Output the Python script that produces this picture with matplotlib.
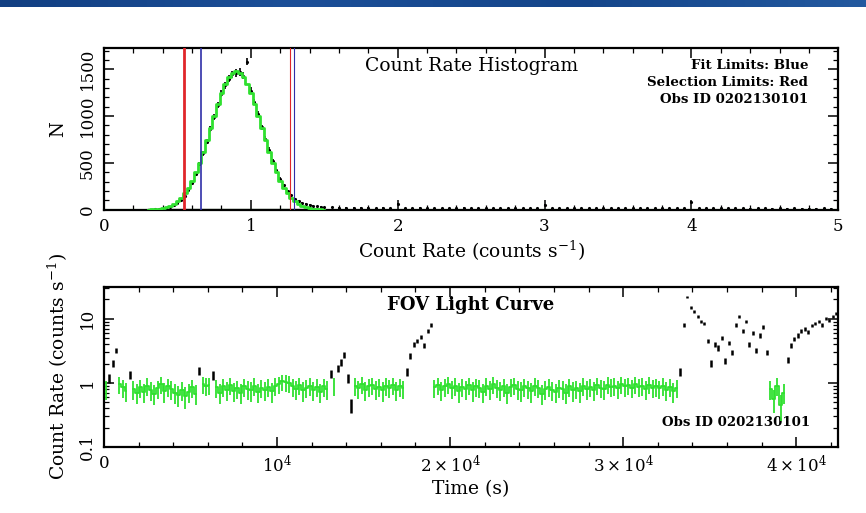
import numpy as np
import matplotlib
matplotlib.use('Agg')
import matplotlib.pyplot as plt
from matplotlib.ticker import MultipleLocator, FixedLocator, FixedFormatter, LogLocator, NullFormatter
from matplotlib.colors import LinearSegmentedColormap

plt.rcParams['font.family'] = 'DejaVu Serif'
plt.rcParams['mathtext.fontset'] = 'dejavuserif'

# ---- count rate histogram (counts s^-1 bins) ----
hist_core_x = np.linspace(0.30, 1.50, 49)
hist_fit = [3, 5, 8, 12.5, 19.5, 30, 45, 65, 92, 129, 176, 236, 310, 399, 502, 618,
            742, 875, 1006, 1134, 1250, 1345, 1418, 1464, 1480, 1464, 1418, 1345, 1250,
            1134, 1006, 875, 742, 618, 502, 399, 310, 236, 176, 129, 92, 65, 45, 30,
            19.5, 12.5, 8, 5, 3]
hist_data = [0, 2, 5, 8, 12, 20, 34, 48, 72, 105, 150, 214, 290, 382, 488, 602,
             725, 860, 990, 1118, 1240, 1330, 1400, 1445, 1460, 1470, 1430, 1580, 1270,
             1150, 1020, 880, 760, 640, 520, 420, 330, 260, 200, 155, 120, 95, 75, 60,
             50, 42, 36, 32, 28]
hist_tail_x = np.linspace(1.55, 4.95, 69)
hist_tail = [26, 24, 23, 22, 22, 21, 20, 21, 20, 65,
             20, 19, 21, 18, 19, 20, 18, 19, 21, 18,
             19, 20, 18, 19, 17, 18, 19, 17, 18, 55,
             18, 17, 19, 17, 18, 16, 18, 17, 16, 18,
             17, 16, 18, 16, 17, 16, 15, 17, 16, 80,
             16, 15, 17, 15, 16, 15, 16, 14, 15, 16,
             14, 15, 14, 15, 14, 13, 14, 15, 13]
fit_limits = [0.661, 1.297]
sel_limits = [0.544, 1.270]

# ---- FOV light curve, 200 s bins ----
lc_bin = 200
lc_rate = [0.80, 1.20, 2.00, 3.20, 0.95, 0.85, 0.75, 1.35, 0.80, 0.70,
           0.85, 0.72, 0.90, 0.78, 0.68, 0.82, 0.95, 0.74, 0.88, 0.80,
           0.70, 0.65, 0.78, 0.62, 0.72, 0.85, 0.68, 1.55, 0.95, 0.90,
           0.92, 1.32, 0.85, 0.70, 0.88, 0.78, 0.92, 0.75, 0.82, 0.70,
           0.88, 0.80, 0.76, 0.90, 0.72, 0.84, 0.78, 0.86, 0.74, 0.90,
           0.95, 1.05, 1.02, 0.98, 0.88, 0.80, 0.92, 0.76, 0.84, 0.90,
           0.78, 0.86, 0.72, 0.88, 0.80, 1.40, 0.90, 1.70, 2.10, 2.70,
           1.20, 0.45, 0.90, 0.82, 0.95, 0.78, 0.88, 0.92, 0.80, 0.86,
           0.76, 0.90, 0.84, 0.92, 0.78, 0.88, 0.82, 1.50, 2.60, 4.00,
           4.50, 5.20, 3.80, 6.50, 8.00, 0.85, 0.92, 0.78, 0.88, 0.95,
           0.82, 0.90, 0.74, 0.86, 0.80, 0.93, 0.76, 0.88, 0.84, 0.72,
           0.90, 0.80, 0.95, 0.84, 0.78, 0.88, 0.70, 0.86, 0.92, 0.80,
           0.76, 0.88, 0.82, 0.74, 0.90, 0.84, 0.68, 0.80, 0.86, 0.78,
           0.72, 0.84, 0.80, 0.70, 0.88, 0.76, 0.82, 0.74, 0.90, 0.80,
           0.86, 0.78, 0.92, 0.84, 0.80, 0.94, 0.86, 0.90, 0.82, 0.96,
           0.88, 0.92, 0.84, 0.96, 0.86, 0.90, 0.80, 0.94, 0.84, 0.88,
           0.82, 0.90, 0.78, 0.86, 0.74, 0.84, 1.50, 8.00, 22.0, 15.0,
           13.0, 11.0, 9.00, 8.50, 4.50, 2.00, 4.00, 3.50, 5.00, 2.20,
           4.20, 3.00, 8.00, 11.0, 6.50, 9.00, 4.00, 6.00, 3.20, 5.50,
           7.50, 3.00, 0.80, 0.55, 0.90, 0.45, 0.70, 2.30, 3.80, 4.80,
           5.50, 6.50, 7.00, 6.20, 7.80, 8.50, 9.20, 8.00, 10.0, 9.50,
           11.0, 12.0]
gti_start = [0, 800, 1600, 5600, 6400, 13200, 14400, 19000, 38400]
gti_stop = [200, 1400, 5400, 6200, 13000, 13400, 17400, 33200, 39400]

GREEN = '#2fe02f'
RED = '#e0262a'
BLUE = '#2f2fa8'

fig = plt.figure(figsize=(8.66, 5.13), dpi=100)

# blue banner strip on top of the slide
bax = fig.add_axes([0, 0.986, 1, 0.014])
banner = LinearSegmentedColormap.from_list('banner', ['#123f82', '#1c4f98', '#14458a', '#23599f'])
bax.imshow(np.linspace(0, 1, 200)[None, :], aspect='auto', cmap=banner)
bax.axis('off')


def style_axes(ax):
    for s in ax.spines.values():
        s.set_linewidth(1.6)
    ax.tick_params(which='both', direction='in', top=True, right=True, width=1.1,
                   labelsize=12, pad=6)
    ax.tick_params(which='major', length=7)
    ax.tick_params(which='minor', length=3.5, width=0.9)
    ax.tick_params(axis='y', labelrotation=90)
    for lab in ax.get_yticklabels():
        lab.set_va('center')


# ---- top: histogram ----
ax1 = fig.add_axes([0.120, 0.591, 0.848, 0.316])
ax1.axhline(0, color=GREEN, lw=2.2, zorder=2)
ax1.hlines(0, hist_core_x[0], hist_core_x[-1], color='k', lw=1.6, zorder=2)
ax1.errorbar(hist_core_x, hist_data, yerr=np.sqrt(hist_data), fmt='.', ms=2.5,
             color='k', elinewidth=1.2, capsize=0, zorder=3)
ax1.errorbar(hist_tail_x, hist_tail, yerr=np.sqrt(hist_tail), fmt='.', ms=2.5,
             color='k', elinewidth=1.2, capsize=0, zorder=3)
ax1.step(hist_core_x, hist_fit, where='mid', color=GREEN, lw=2.0, zorder=4)
ax1.axvline(sel_limits[0], color=RED, lw=2.0, zorder=5)
ax1.axvline(sel_limits[1], color=RED, lw=0.8, zorder=5)
ax1.axvline(fit_limits[0], color=BLUE, lw=1.2, zorder=5)
ax1.axvline(fit_limits[1], color=BLUE, lw=0.8, zorder=5)
ax1.set_xlim(0, 5)
ax1.set_ylim(0, 1730)
ax1.xaxis.set_major_locator(MultipleLocator(1))
ax1.xaxis.set_minor_locator(MultipleLocator(0.2))
ax1.yaxis.set_major_locator(MultipleLocator(500))
ax1.yaxis.set_minor_locator(MultipleLocator(100))
style_axes(ax1)
ax1.set_xlabel('Count Rate (counts s$^{-1}$)', fontsize=13.5, labelpad=3)
ax1.set_ylabel('N', fontsize=13, labelpad=8)
ax1.text(0.5, 0.89, 'Count Rate Histogram', transform=ax1.transAxes,
         ha='center', va='center', fontsize=13.5)
for txt, yy in zip(['Fit Limits: Blue', 'Selection Limits: Red', 'Obs ID 0202130101'],
                   [0.889, 0.786, 0.683]):
    ax1.text(0.959, yy, txt, transform=ax1.transAxes, ha='right', va='center',
             fontsize=9.6, fontweight='bold')

# ---- bottom: light curve ----
lc_rate = np.array(lc_rate)
lc_time = np.arange(len(lc_rate)) * lc_bin + lc_bin / 2
lc_err = np.sqrt(lc_rate / 12.0)
good = np.zeros(len(lc_rate), dtype=bool)
for a, b in zip(gti_start, gti_stop):
    good |= (lc_time > a) & (lc_time < b)

ax2 = fig.add_axes([0.120, 0.129, 0.848, 0.312])
ax2.errorbar(lc_time[~good], lc_rate[~good], yerr=lc_err[~good] * 0.6,
             fmt='none', ecolor='k', elinewidth=1.8, capsize=0, zorder=3)
# green points: joined within each good time interval to form the dense band
for a, b in zip(gti_start, gti_stop):
    m = (lc_time > a) & (lc_time < b)
    ax2.plot(lc_time[m], lc_rate[m], color=GREEN, lw=1.3, drawstyle='steps-mid', zorder=4)
    ax2.errorbar(lc_time[m], lc_rate[m], yerr=lc_err[m], fmt='none',
                 ecolor=GREEN, elinewidth=1.3, capsize=0, zorder=4)
ax2.set_yscale('log')
ax2.set_xlim(0, 42430)
ax2.set_ylim(0.1, 31.6)
ax2.xaxis.set_major_locator(FixedLocator([0, 1e4, 2e4, 3e4, 4e4]))
ax2.xaxis.set_major_formatter(FixedFormatter(['0', r'$10^4$', r'$2\times10^4$',
                                              r'$3\times10^4$', r'$4\times10^4$']))
ax2.xaxis.set_minor_locator(MultipleLocator(2000))
ax2.yaxis.set_major_locator(FixedLocator([0.1, 1, 10]))
ax2.yaxis.set_major_formatter(FixedFormatter(['0.1', '1', '10']))
ax2.yaxis.set_minor_locator(LogLocator(base=10, subs=np.arange(2, 10)))
ax2.yaxis.set_minor_formatter(NullFormatter())
style_axes(ax2)
ax2.set_xlabel('Time (s)', fontsize=13.5, labelpad=3)
ax2.set_ylabel('Count Rate (counts s$^{-1}$)', fontsize=13.5, labelpad=6)
ax2.text(0.5, 0.885, 'FOV Light Curve', transform=ax2.transAxes,
         ha='center', va='center', fontsize=13, fontweight='bold')
ax2.text(0.962, 0.15, 'Obs ID 0202130101', transform=ax2.transAxes,
         ha='right', va='center', fontsize=9.6, fontweight='bold')

fig.savefig('out.png', dpi=100)
